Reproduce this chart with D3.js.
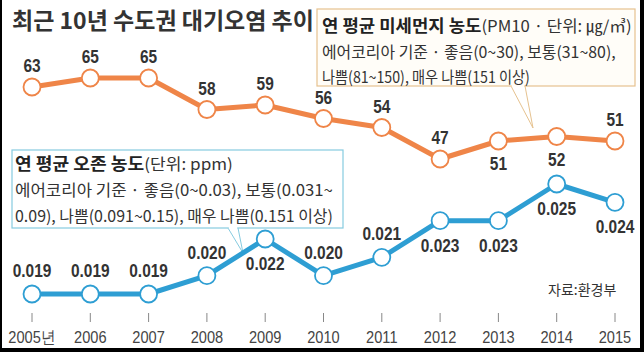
<!DOCTYPE html>
<html><head><meta charset="utf-8">
<script src="https://cdn.jsdelivr.net/npm/d3@7"></script>
<style>
html,body{margin:0;padding:0;background:#000;}
svg{display:block;}
</style></head>
<body>
<script>
const years = [2005,2006,2007,2008,2009,2010,2011,2012,2013,2014,2015];
const yearLabels = ["2005년","2006","2007","2008","2009","2010","2011","2012","2013","2014","2015"];
const pm10 = [63,65,65,58,59,56,54,47,51,52,51];
const ozone = [0.019,0.019,0.019,0.020,0.022,0.020,0.021,0.023,0.023,0.025,0.024];
const pm10LabelSide = ["up","up","up","up","up","up","up","up","down","down","up"];
const ozoneLabelSide = ["up","up","up","up","down","up","up","down","down","down","down"];
const title = "최근 10년 수도권 대기오염 추이";
const source = "자료:환경부";
const pmLegend = [["연 평균 미세먼지 농도","(PM10 · 단위: ㎍/㎥)"],["","에어코리아 기준 · 좋음(0~30), 보통(31~80),"],["","나쁨(81~150), 매우 나쁨(151 이상)"]];
const o3Legend = [["연 평균 오존 농도","(단위: ppm)"],["","에어코리아 기준 · 좋음(0~0.03), 보통(0.031~"],["","0.09), 나쁨(0.091~0.15), 매우 나쁨(0.151 이상)"]];

const W=644,H=352;
const svg=d3.select("body").append("svg").attr("width",W).attr("height",H);
// frame
svg.append("rect").attr("x",0).attr("y",0).attr("width",W).attr("height",H).attr("fill","#000");
svg.append("rect").attr("x",2).attr("y",0).attr("width",W-6).attr("height",H-4).attr("fill","#fff");

const x=d3.scalePoint().domain(years).range([32,615]);
const yPM=d3.scaleLinear().domain([47,65]).range([159,78]);
const yO3=d3.scaleLinear().domain([0.019,0.025]).range([294,184]);

const KR="'Noto Sans CJK KR','Noto Sans',sans-serif";
const NUM="'Liberation Sans',Arial,sans-serif";
const CX=0.86;

// title
svg.append("text").attr("x",12).attr("y",29).attr("font-family",KR).attr("font-weight",700)
  .attr("font-size",23).attr("fill","#333").text(title);

// x axis ticks & labels
const xa=svg.append("g");
xa.selectAll("line").data(years).join("line")
  .attr("x1",d=>x(d)).attr("x2",d=>x(d)).attr("y1",313).attr("y2",322)
  .attr("stroke","#888").attr("stroke-width",1);
xa.selectAll("text").data(years).join("text")
  .attr("transform",d=>`translate(${x(d)},343) scale(${CX},1)`).attr("text-anchor","middle")
  .attr("font-family",NUM).attr("font-size",17).attr("fill","#444")
  .text((d,i)=>yearLabels[i]);

// legend boxes with tails
function legendBox(bx,by,bw,bh,stroke,fill,tail,lines,tx,baselines,widths){
  const g=svg.append("g");
  g.append("rect").attr("x",bx).attr("y",by).attr("width",bw).attr("height",bh)
    .attr("fill",fill).attr("stroke",stroke).attr("stroke-width",1.2);
  g.append("path").attr("d",`M${tail[0]},${by+bh} L${tail[2]},${tail[3]} L${tail[1]},${by+bh}`)
    .attr("fill","none").attr("stroke",stroke).attr("stroke-width",1);
  g.append("line").attr("x1",tail[0]+0.8).attr("x2",tail[1]-0.8).attr("y1",by+bh).attr("y2",by+bh)
    .attr("stroke",fill).attr("stroke-width",2);
  lines.forEach((ln,i)=>{
    const t=g.append("text").attr("font-family",KR).attr("font-size",16).attr("fill","#333");
    if(ln[0]) t.append("tspan").attr("font-weight",700).attr("font-size",17).attr("fill","#222").text(ln[0]);
    t.append("tspan").text(ln[1]);
    const len=t.node().getComputedTextLength();
    t.attr("transform",`translate(${tx},${baselines[i]}) scale(${widths[i]/len},1)`);
  });
}
legendBox(317,9,318,77,"#e6c28f","#fffdf8",[511,525,533,128],pmLegend,322,[32,58,83],[310,294,208]);
legendBox(12,150,331,78,"#86cbe0","#ffffff",[228,238,243,253],o3Legend,15,[170,196,222],[218,318,318]);

// lines
function series(vals,y,color,sides,fmt,upOff,downOff){
  const g=svg.append("g");
  g.append("path").datum(vals)
    .attr("d",d3.line().x((d,i)=>x(years[i])).y(d=>y(d)))
    .attr("fill","none").attr("stroke",color).attr("stroke-width",5).attr("stroke-linejoin","round");
  g.selectAll("circle").data(vals).join("circle")
    .attr("cx",(d,i)=>x(years[i])).attr("cy",d=>y(d)).attr("r",8.5)
    .attr("fill","#fff").attr("stroke",color).attr("stroke-width",1.8);
  g.selectAll("text").data(vals).join("text")
    .attr("transform",(d,i)=>`translate(${x(years[i])},${y(d)+(sides[i]==="up"?upOff:downOff)}) scale(${CX},1)`)
    .attr("text-anchor","middle").attr("font-family",NUM).attr("font-weight",700)
    .attr("font-size",18).attr("fill","#333").text(fmt);
}
series(pm10,yPM,"#ef8548",pm10LabelSide,d=>d,-15,29);
series(ozone,yO3,"#2e9ed3",ozoneLabelSide,d=>d3.format(".3f")(d),-17,31);

// source
svg.append("text").attr("x",548).attr("y",295).attr("font-family",KR).attr("font-size",14)
  .attr("fill","#333").text(source);
</script>
</body></html>
